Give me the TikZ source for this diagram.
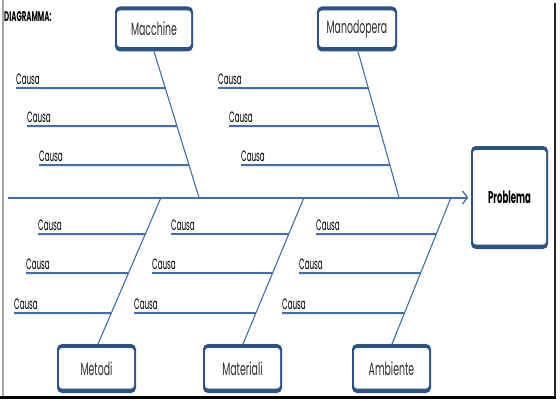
\documentclass[tikz,border=0pt]{standalone}
\usepackage{fontspec}
\setmainfont{Poppins}
\newfontfamily\boxfont[FakeStretch=0.52]{Poppins}
\newfontfamily\causefont[FakeStretch=0.48]{Poppins}
\newfontfamily\probfont[FakeStretch=0.5]{Poppins}
\usetikzlibrary{arrows.meta,calc}
\definecolor{boxc}{RGB}{44,82,138}
\definecolor{linec}{RGB}{66,110,172}
\definecolor{txt}{RGB}{45,45,45}
\tikzset{
  catbox/.style={rectangle, rounded corners=5pt, fill=boxc, minimum width=#1, inner sep=0pt,
    text=txt, font=\boxfont\fontsize{18}{19}\selectfont,
    path picture={\fill[white, rounded corners=3pt]
      ([shift={(2pt,-4pt)}]path picture bounding box.north west) rectangle
      ([shift={(-2pt,4.5pt)}]path picture bounding box.south east);}},
  catbox/.default=79pt,
  diag/.style={draw=linec, line width=1.1pt},
  causeln/.style={draw=linec, line width=2pt},
  causelbl/.style={anchor=south west, inner sep=0pt, yshift=3.5pt, text=black,
    font=\causefont\fontsize{15}{16}\selectfont},
  spine/.style={draw=linec, line width=2pt, -{Straight Barb[length=5pt,width=13pt,line width=1.3pt]}},
}
\newcommand\causeline[5]{%
  \coordinate (#1) at (#2,#3);
  \draw[causeln] (#1) -- (intersection cs: first line={(#1)--(600,#3)}, second line={(#4)--(#5)});
  \node[causelbl] (#1t) at (#1) {Causa};
}
\begin{document}
\begin{tikzpicture}[x=1pt,y=-1pt]
\useasboundingbox[fill=white] (0,0) rectangle (560,404);
% frame
\draw[gray!70, line width=1.2pt] (3,0) -- (3,397);
\draw[black!85, line width=1.4pt] (555,3) -- (555,397);
\draw[black, line width=2.4pt] (0,397.5) -- (556,397.5);
% title
\node[anchor=north west, inner sep=0pt, font=\probfont\bfseries\fontsize{14}{15}\selectfont] (title) at (4,11) {DIAGRAMMA:};
% boxes
\node[catbox=78pt, minimum height=45pt] (mac) at (154,29) {Macchine};
\node[catbox=80pt, minimum height=45pt] (man) at (357,29) {Manodopera};
\node[catbox=79pt, minimum height=49pt] (met) at (96.5,368.5) {Metodi};
\node[catbox=79pt, minimum height=49pt] (mat) at (242.5,368.5) {Materiali};
\node[catbox=79pt, minimum height=49pt] (amb) at (391.5,368.5) {Ambiente};
\node[catbox=77pt, minimum height=103pt, font=\probfont\bfseries\fontsize{17}{18}\selectfont, text=black] (prob) at (509.5,197.5) {Problema};
% spine
\coordinate (tail) at (8,197.5);
\draw[spine, shorten >=2.5pt] (tail) -- (prob.west);
% junctions
\coordinate (jmac) at (199,197.5);
\coordinate (jman) at (399,197.5);
\coordinate (jmet) at (161,197.5);
\coordinate (jmat) at (304,197.5);
\coordinate (jamb) at (451,197.5);
\coordinate (smac) at (154,51.5);
\coordinate (sman) at (358,51.5);
\coordinate (smet) at (98,344);
\coordinate (smat) at (243,344);
\coordinate (samb) at (392,344);
\draw[diag] (smac) -- (jmac);
\draw[diag] (sman) -- (jman);
\draw[diag] (smet) -- (jmet);
\draw[diag] (smat) -- (jmat);
\draw[diag] (samb) -- (jamb);
% causes
\causeline{a1}{16}{88}{smac}{jmac}
\causeline{a2}{27}{126}{smac}{jmac}
\causeline{a3}{39}{165}{smac}{jmac}
\causeline{b1}{218}{88}{sman}{jman}
\causeline{b2}{229}{126}{sman}{jman}
\causeline{b3}{241}{165}{sman}{jman}
\causeline{c1}{38}{234}{smet}{jmet}
\causeline{c2}{26}{273}{smet}{jmet}
\causeline{c3}{14}{313}{smet}{jmet}
\causeline{d1}{171}{234}{smat}{jmat}
\causeline{d2}{152}{273}{smat}{jmat}
\causeline{d3}{134}{313}{smat}{jmat}
\causeline{e1}{316}{234}{samb}{jamb}
\causeline{e2}{299}{273}{samb}{jamb}
\causeline{e3}{282}{313}{samb}{jamb}
\end{tikzpicture}
\end{document}
